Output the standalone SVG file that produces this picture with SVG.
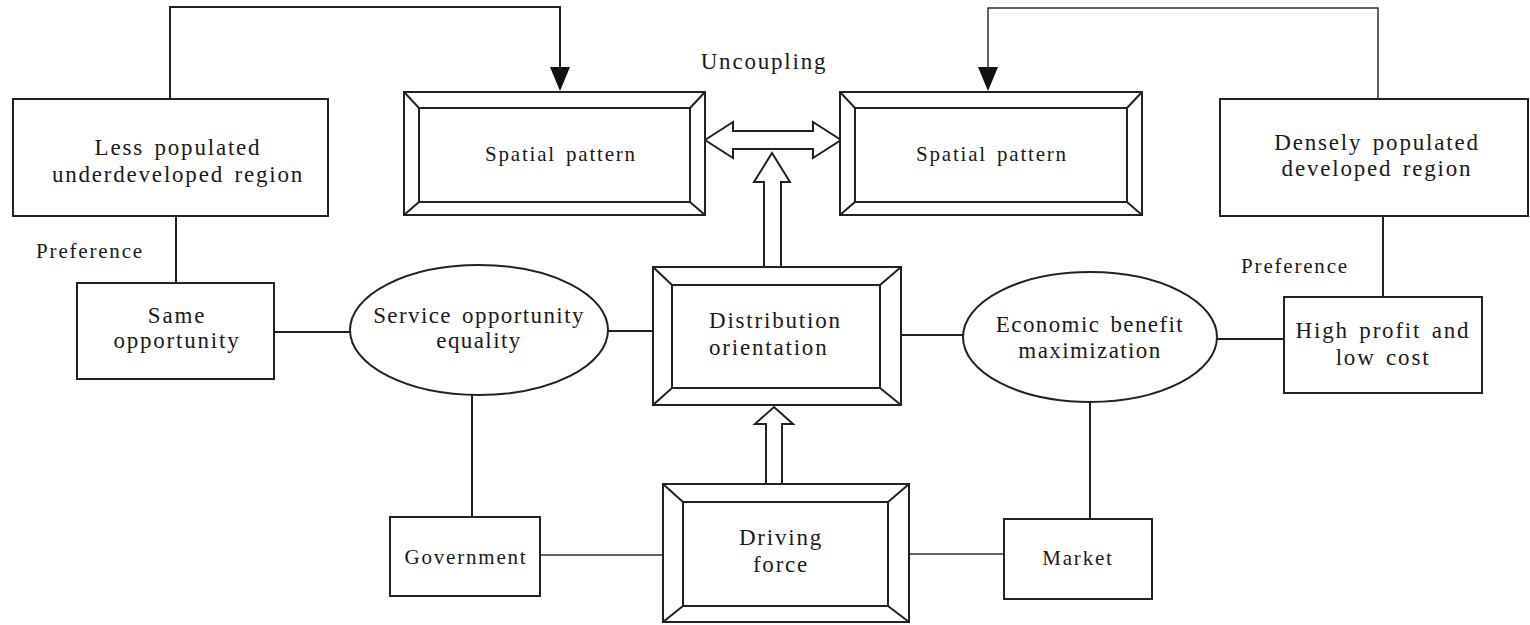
<svg xmlns="http://www.w3.org/2000/svg" width="1530" height="625" viewBox="0 0 1530 625">
<style>
.bx{fill:#fff;stroke:#222;stroke-width:2}
.bv{fill:none;stroke:#222;stroke-width:2}
.ln{fill:none;stroke:#222;stroke-width:2}
.thin{fill:none;stroke:#333;stroke-width:1.5}
.ha{fill:#fff;stroke:#222;stroke-width:2;stroke-linejoin:miter}
text{font-family:"Liberation Serif","Times New Roman",serif;font-size:23px;fill:#1a1a1a;text-anchor:middle;letter-spacing:1.8px;word-spacing:3px}
text.sm{font-size:21px}
text.el{letter-spacing:1.4px}
</style>
<rect width="1530" height="625" fill="#fff"/>

<g id="connectors">
<polyline class="ln" points="170,99 170,7 560,7 560,88"/>
<polyline class="thin" points="1378,99 1378,8 988,8 988,88"/>
<path d="M560,67 L570,67 L560,91 L550,67 Z" fill="#111"/>
<path d="M988,67 L998,67 L988,91 L978,67 Z" fill="#111"/>
<line class="ln" x1="176" y1="216" x2="176" y2="283"/>
<line class="ln" x1="274" y1="332" x2="350" y2="332"/>
<line class="ln" x1="608" y1="331" x2="653" y2="331"/>
<line class="ln" x1="901" y1="335" x2="963" y2="335"/>
<line class="ln" x1="1217" y1="339" x2="1284" y2="339"/>
<line class="ln" x1="1383" y1="216" x2="1383" y2="297"/>
<line class="ln" x1="472" y1="395" x2="472" y2="517"/>
<line class="ln" x1="1090" y1="402" x2="1090" y2="519"/>
<line class="thin" x1="540" y1="555" x2="663" y2="555"/>
<line class="thin" x1="909" y1="554" x2="1004" y2="554"/>
<polygon class="ha" points="705,140 733,122 733,131 813,131 813,122 841,140 813,158 813,149 733,149 733,158"/>
<polygon class="ha" points="772,153 790,182 781,182 781,267 764,267 764,182 754,182"/>
<polygon class="ha" points="774,407 793,424 782,424 782,484 766,484 766,424 755,424"/>
</g>

<g id="uncoupling"><text x="764" y="69">Uncoupling</text></g>

<g id="less-populated">
<rect class="bx" x="13" y="99" width="315" height="117"/>
<text x="178" y="155">Less populated</text>
<text x="178" y="182">underdeveloped region</text>
</g>
<g id="preference-left"><text class="sm" x="90" y="258">Preference</text></g>

<g id="spatial-left">
<rect class="bx" x="404" y="92" width="301" height="123"/>
<rect class="bv" x="419" y="108" width="271" height="94"/>
<path class="bv" d="M404,92 L419,108 M705,92 L690,108 M404,215 L419,202 M705,215 L690,202"/>
<text class="sm" x="561" y="161">Spatial pattern</text>
</g>

<g id="spatial-right">
<rect class="bx" x="840" y="92" width="302" height="123"/>
<rect class="bv" x="855" y="108" width="272" height="94"/>
<path class="bv" d="M840,92 L855,108 M1142,92 L1127,108 M840,215 L855,202 M1142,215 L1127,202"/>
<text class="sm" x="992" y="161">Spatial pattern</text>
</g>

<g id="densely-populated">
<rect class="bx" x="1220" y="99" width="308" height="117"/>
<text x="1377" y="150">Densely populated</text>
<text x="1377" y="176">developed region</text>
</g>
<g id="preference-right"><text class="sm" x="1295" y="273">Preference</text></g>

<g id="same-opportunity">
<rect class="bx" x="77" y="283" width="197" height="96"/>
<text x="177" y="323">Same</text>
<text x="177" y="348">opportunity</text>
</g>

<g id="service-equality">
<ellipse class="bx" cx="479" cy="330" rx="129" ry="65"/>
<text class="el" x="479" y="323">Service opportunity</text>
<text class="el" x="479" y="348">equality</text>
</g>

<g id="distribution">
<rect class="bx" x="653" y="267" width="248" height="138"/>
<rect class="bv" x="672" y="285" width="208" height="103"/>
<path class="bv" d="M653,267 L672,285 M901,267 L880,285 M653,405 L672,388 M901,405 L880,388"/>
<text x="709" y="328" style="text-anchor:start">Distribution</text>
<text x="709" y="355" style="text-anchor:start">orientation</text>
</g>

<g id="economic-benefit">
<ellipse class="bx" cx="1090" cy="337" rx="127" ry="65"/>
<text class="el" x="1090" y="332">Economic benefit</text>
<text class="el" x="1090" y="358">maximization</text>
</g>

<g id="high-profit">
<rect class="bx" x="1284" y="297" width="198" height="96"/>
<text x="1383" y="338">High profit and</text>
<text x="1383" y="365">low cost</text>
</g>

<g id="government">
<rect class="bx" x="390" y="517" width="150" height="79"/>
<text class="sm" x="466" y="564">Government</text>
</g>

<g id="driving-force">
<rect class="bx" x="663" y="484" width="246" height="138"/>
<rect class="bv" x="683" y="502" width="205" height="104"/>
<path class="bv" d="M663,484 L683,502 M909,484 L888,502 M663,622 L683,606 M909,622 L888,606"/>
<text x="781" y="545">Driving</text>
<text x="781" y="572">force</text>
</g>

<g id="market">
<rect class="bx" x="1004" y="519" width="148" height="80"/>
<text class="sm" x="1078" y="565">Market</text>
</g>
</svg>
